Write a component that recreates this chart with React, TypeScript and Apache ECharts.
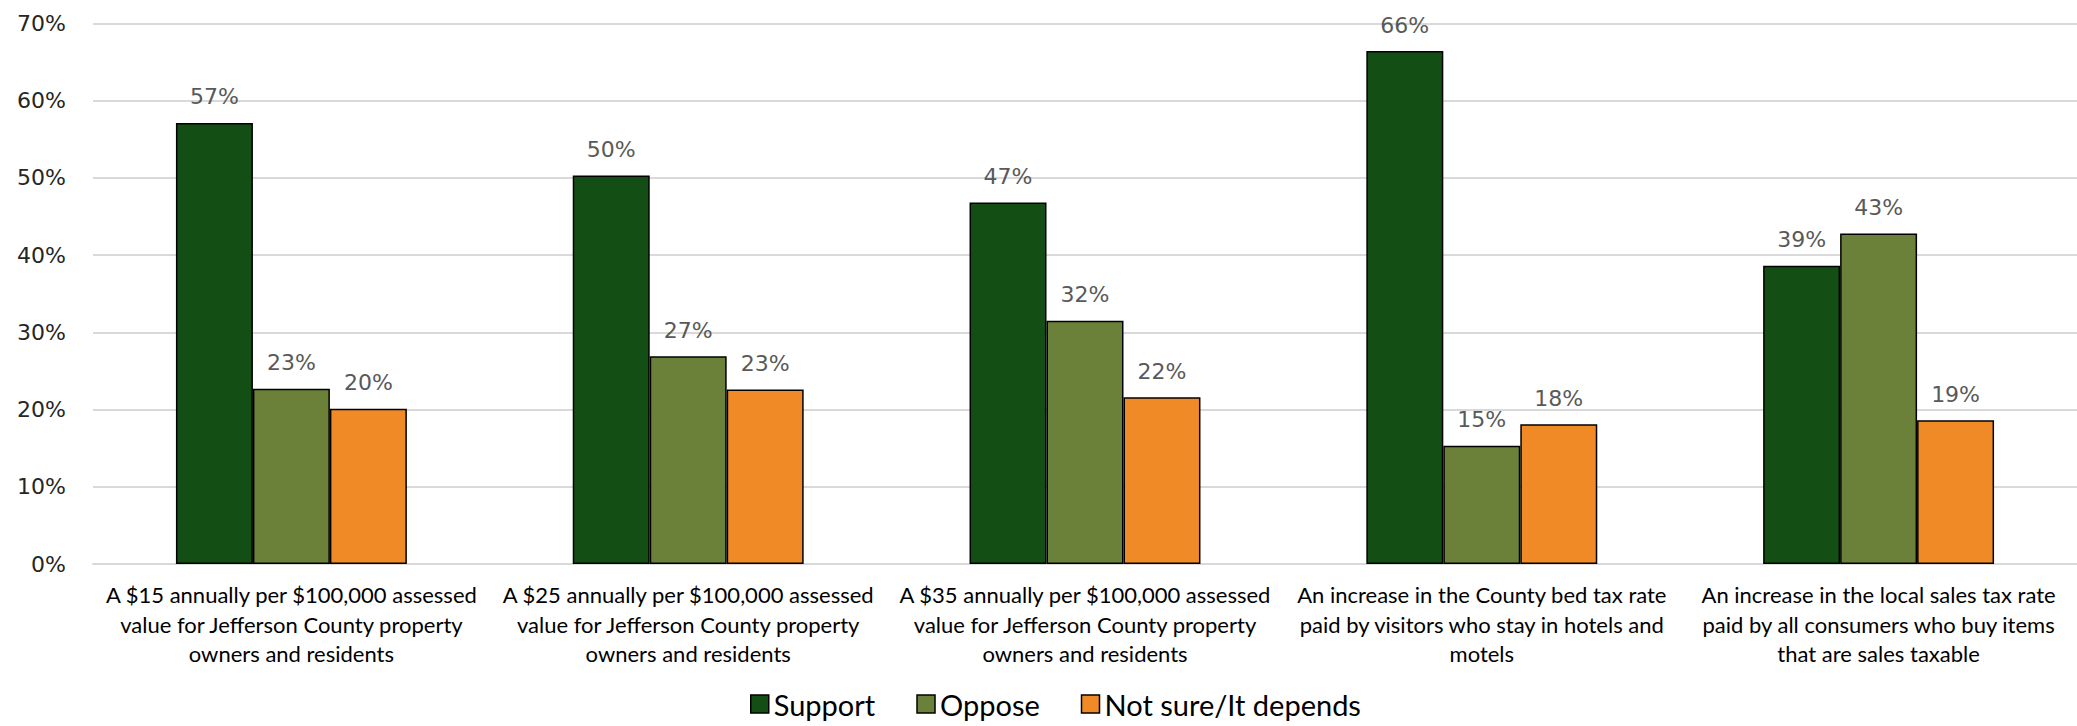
import React, { useEffect, useRef } from "react";
import * as echarts from "echarts";

const categories: string[] = [
  "A $15 annually per $100,000 assessed\nvalue for Jefferson County property\nowners and residents",
  "A $25 annually per $100,000 assessed\nvalue for Jefferson County property\nowners and residents",
  "A $35 annually per $100,000 assessed\nvalue for Jefferson County property\nowners and residents",
  "An increase in the County bed tax rate\npaid by visitors who stay in hotels and\nmotels",
  "An increase in the local sales tax rate\npaid by all consumers who buy items\nthat are sales taxable",
];

const seriesNames: string[] = ["Support", "Oppose", "Not sure/It depends"];
const supportValues: number[] = [57.1, 50.3, 46.8, 66.4, 38.6];
const opposeValues: number[] = [22.7, 26.9, 31.5, 15.3, 42.8];
const notSureValues: number[] = [20.1, 22.6, 21.6, 18.1, 18.6];
const seriesColors: string[] = ["#134F15", "#6B8039", "#F08A26"];

const yTicks = { min: 0, max: 70, interval: 10 };

export default function App() {
  const ref = useRef<HTMLDivElement>(null);

  useEffect(() => {
    if (!ref.current) return;
    const chart = echarts.init(ref.current, undefined, { renderer: "svg" });
    const valueSets = [supportValues, opposeValues, notSureValues];
    chart.setOption({
      animation: false,
      backgroundColor: "#ffffff",
      grid: { left: 93, right: 0, top: 23.3, bottom: 162, containLabel: false },
      legend: {
        left: 750,
        top: 689,
        padding: 0,
        itemWidth: 18,
        itemHeight: 18,
        itemGap: 41,
        icon: "rect",
        itemStyle: { borderColor: "#000000", borderWidth: 1.5 },
        textStyle: { fontFamily: "Lato", fontSize: 29, lineHeight: 30, color: "#000000" },
        data: seriesNames,
      },
      xAxis: {
        type: "category",
        data: categories,
        axisTick: { show: false },
        axisLine: { show: true, lineStyle: { color: "#D9D9D9", width: 2 } },
        axisLabel: {
          interval: 0,
          margin: 16,
          fontFamily: "Lato",
          fontSize: 22,
          lineHeight: 29.5,
          color: "#000000",
          align: "center",
        },
      },
      yAxis: {
        type: "value",
        min: yTicks.min,
        max: yTicks.max,
        interval: yTicks.interval,
        axisLine: { show: false },
        axisTick: { show: false },
        splitLine: { lineStyle: { color: "#D9D9D9", width: 2 } },
        axisLabel: {
          formatter: "{value}%",
          margin: 27,
          fontFamily: "DejaVu Sans",
          fontSize: 22,
          color: "#262626",
        },
      },
      series: seriesNames.map((name, i) => ({
        name,
        type: "bar",
        data: valueSets[i],
        barGap: "0%",
        barCategoryGap: "41.8%",
        itemStyle: {
          color: seriesColors[i],
          borderColor: "#000000",
          borderWidth: 1.5,
        },
        label: {
          show: true,
          position: "top",
          distance: 15,
          fontFamily: "DejaVu Sans",
          fontSize: 22,
          color: "#595959",
          formatter: (p: any) => `${Math.round(p.value)}%`,
        },
      })),
    });
    return () => chart.dispose();
  }, []);

  return (
    <div
      ref={ref}
      style={{ position: "fixed", left: 0, top: 0, width: 2077, height: 726 }}
    />
  );
}
